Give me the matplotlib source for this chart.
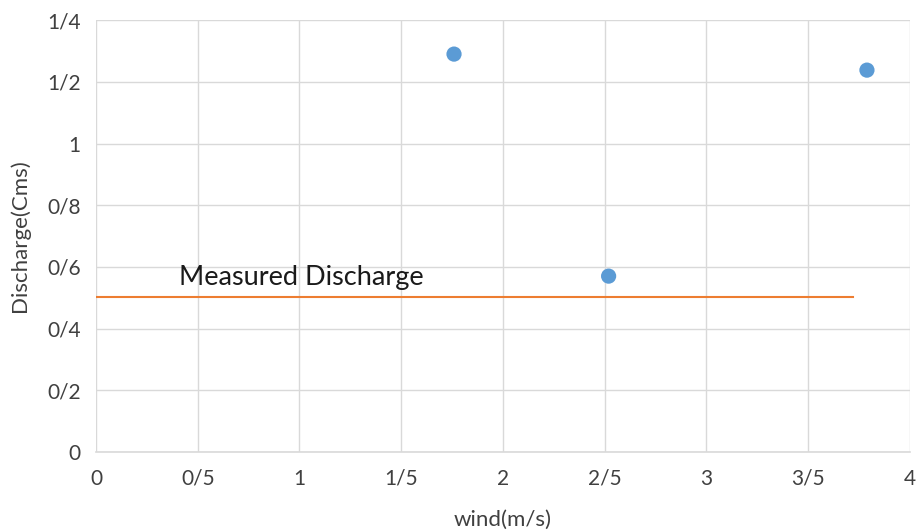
import matplotlib
matplotlib.use("Agg")
import matplotlib.pyplot as plt

wind = [1.76, 2.52, 3.79]
discharge = [1.29, 0.57, 1.238]
measured_x = [0.0, 3.72]
measured_y = [0.503, 0.503]
xticks = [0, 0.5, 1, 1.5, 2, 2.5, 3, 3.5, 4]
xticklabels = ["0", "0/5", "1", "1/5", "2", "2/5", "3", "3/5", "4"]
yticks = [0, 0.2, 0.4, 0.6, 0.8, 1.0, 1.2, 1.4]
yticklabels = ["0", "0/2", "0/4", "0/6", "0/8", "1", "1/2", "1/4"]

plt.rcParams['font.family'] = ['Lato', 'DejaVu Sans']

fig = plt.figure(figsize=(9.17, 5.31), dpi=100)
ax = fig.add_axes([0.1047, 0.149, 0.8873, 0.813])

ax.plot(measured_x, measured_y, color="#ED7D31", lw=1.5, zorder=2)
ax.scatter(wind, discharge, s=120, color="#5B9BD5", zorder=3, edgecolors="none")
ax.text(0.41, 0.565, "Measured Discharge", fontsize=19.5, color="#1A1A1A", va="center", ha="left")

ax.set_xlim(0, 4)
ax.set_ylim(0, 1.4)
ax.set_xticks(xticks)
ax.set_xticklabels(xticklabels)
ax.set_yticks(yticks)
ax.set_yticklabels(yticklabels)
ax.tick_params(axis="x", length=0, labelsize=15, labelcolor="#404040", pad=12)
ax.tick_params(axis="y", length=0, labelsize=15, labelcolor="#404040", pad=11)
ax.grid(True, color="#D9D9D9", lw=1)
ax.set_axisbelow(True)
for s in ["left", "right", "top"]:
    ax.spines[s].set_visible(False)
ax.spines["bottom"].set_color("#D9D9D9")
ax.spines["bottom"].set_linewidth(1.2)

ax.set_xlabel("wind(m/s)", fontsize=16, color="#404040", labelpad=15)
ax.set_ylabel("Discharge(Cms)", fontsize=16, color="#404040", labelpad=12)

fig.savefig("out.png", dpi=100)
